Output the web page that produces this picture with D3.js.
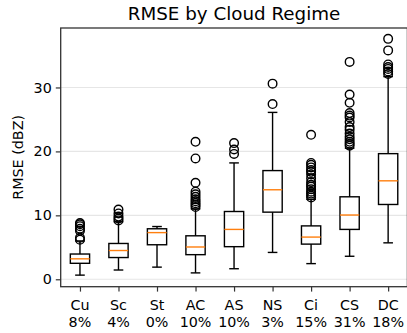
<!DOCTYPE html>
<html>
<head>
<meta charset="utf-8">
<script src="https://cdn.jsdelivr.net/npm/d3@7"></script>
<style>
  body { margin: 0; background: #fff; }
  svg { display: block; font-family: "DejaVu Sans", sans-serif; }
</style>
</head>
<body>
<div id="chart"></div>
<script>
var regimes = ["Cu", "Sc", "St", "AC", "AS", "NS", "Ci", "CS", "DC"];
var shares = ["8%", "4%", "0%", "10%", "10%", "3%", "15%", "31%", "18%"];

var whiskerLow = [0.65, 1.45, 1.9, 1.0, 1.65, 4.2, 2.45, 3.6, 5.7];
var q1 = [2.5, 3.4, 5.4, 3.85, 5.1, 10.5, 5.5, 7.8, 11.7];
var median = [3.2, 4.5, 7.3, 5.05, 7.8, 14.0, 6.6, 10.05, 15.4];
var q3 = [3.95, 5.6, 7.9, 6.8, 10.6, 17.0, 8.35, 12.9, 19.65];
var whiskerHigh = [6.0, 9.0, 8.25, 11.0, 18.2, 26.1, 12.5, 20.5, 31.7];

var fliers = [
	[8.8, 8.6, 8.3, 7.9, 7.6, 6.5, 6.2],
	[10.9, 10.3, 9.8, 9.5, 9.2],
	[],
	[21.5, 18.9, 15.1, 13.7, 13.3, 12.9, 12.5, 12.2, 11.9, 11.6, 11.3],
	[21.3, 20.3, 19.6],
	[30.6, 27.4],
	[22.6, 18.2, 17.9, 17.5, 17.1, 16.8, 16.4, 15.8, 15.2, 14.8, 14.5, 14.1, 13.7, 13.4, 13.1, 12.8],
	[34.0, 28.9, 27.6, 26.0, 25.6, 25.3, 24.6, 23.8, 23.4, 22.8, 22.3, 21.9, 21.5, 21.2, 20.9],
	[37.6, 35.8, 33.6, 33.2, 32.9, 32.5, 32.1]
];

var yTicks = [0, 10, 20, 30];

var width = 407, height = 333;
var plotLeft = 60.7, plotRight = 407.4, plotTop = 28, plotBottom = 286.7;
var fontSize = 14.3;

var svg = d3.select("#chart").append("svg")
	.attr("width", width)
	.attr("height", height);

var x = d3.scaleLinear().domain([0.5, 9.5]).range([plotLeft, plotRight]);
var y = d3.scaleLinear().domain([-1.16, 39.3]).range([plotBottom, plotTop]);

// grid
svg.append("g").selectAll("line")
	.data(yTicks)
	.join("line")
	.attr("x1", plotLeft).attr("x2", plotRight)
	.attr("y1", d => y(d)).attr("y2", d => y(d))
	.attr("stroke", "#e6e6e6")
	.attr("stroke-width", 1.1);

// y axis
var yAxis = svg.append("g")
	.attr("transform", "translate(" + plotLeft + ",0)")
	.call(d3.axisLeft(y).tickValues(yTicks).tickSize(4.9).tickPadding(4));
// x axis
var xAxis = svg.append("g")
	.attr("transform", "translate(0," + plotBottom + ")")
	.call(d3.axisBottom(x).tickValues(d3.range(1, 10)).tickSize(4.9).tickFormat(""));

svg.selectAll(".domain").remove();
svg.selectAll(".tick line").attr("stroke", "#333").attr("stroke-width", 1.2);
yAxis.selectAll("text").attr("font-size", fontSize).attr("fill", "#000")
	.attr("font-family", "DejaVu Sans");

// two-line category labels
var xl = svg.append("g").selectAll("text")
	.data(regimes)
	.join("text")
	.attr("text-anchor", "middle")
	.attr("font-size", fontSize)
	.attr("fill", "#000");
xl.append("tspan").attr("x", (d, i) => x(i + 1)).attr("y", 310).text(d => d);
xl.append("tspan").attr("x", (d, i) => x(i + 1)).attr("y", 327).text((d, i) => shares[i]);

// boxes
var boxW = x(1.25) - x(1);
var capW = x(1.125) - x(1);
var g = svg.append("g");
regimes.forEach(function(r, i) {
	var cx = x(i + 1);
	var b = g.append("g").attr("stroke", "#000").attr("stroke-width", 1.4).attr("fill", "none");
	b.append("line").attr("x1", cx).attr("x2", cx).attr("y1", y(whiskerLow[i])).attr("y2", y(q1[i]));
	b.append("line").attr("x1", cx).attr("x2", cx).attr("y1", y(q3[i])).attr("y2", y(whiskerHigh[i]));
	b.append("line").attr("x1", cx - capW).attr("x2", cx + capW).attr("y1", y(whiskerLow[i])).attr("y2", y(whiskerLow[i]));
	b.append("line").attr("x1", cx - capW).attr("x2", cx + capW).attr("y1", y(whiskerHigh[i])).attr("y2", y(whiskerHigh[i]));
	b.append("rect")
		.attr("x", cx - boxW).attr("width", boxW * 2)
		.attr("y", y(q3[i])).attr("height", y(q1[i]) - y(q3[i]));
	g.append("line")
		.attr("x1", cx - boxW).attr("x2", cx + boxW)
		.attr("y1", y(median[i])).attr("y2", y(median[i]))
		.attr("stroke", "#ff7f0e").attr("stroke-width", 1.4);
	g.append("g").selectAll("circle")
		.data(fliers[i])
		.join("circle")
		.attr("cx", cx).attr("cy", d => y(d))
		.attr("r", 4.3)
		.attr("fill", "none")
		.attr("stroke", "#000")
		.attr("stroke-width", 1.4);
});

// frame
svg.append("rect")
	.attr("x", plotLeft).attr("y", plotTop)
	.attr("width", plotRight - plotLeft).attr("height", plotBottom - plotTop)
	.attr("fill", "none")
	.attr("stroke", "#333")
	.attr("stroke-width", 1.3);

// title
svg.append("text")
	.attr("x", (plotLeft + plotRight) / 2).attr("y", 19.5)
	.attr("text-anchor", "middle")
	.attr("font-size", 18.3)
	.attr("fill", "#000")
	.text("RMSE by Cloud Regime");

// y label
svg.append("text")
	.attr("transform", "translate(23," + ((plotTop + plotBottom) / 2) + ") rotate(-90)")
	.attr("text-anchor", "middle")
	.attr("font-size", fontSize)
	.attr("fill", "#000")
	.text("RMSE (dBZ)");
</script>
</body>
</html>
